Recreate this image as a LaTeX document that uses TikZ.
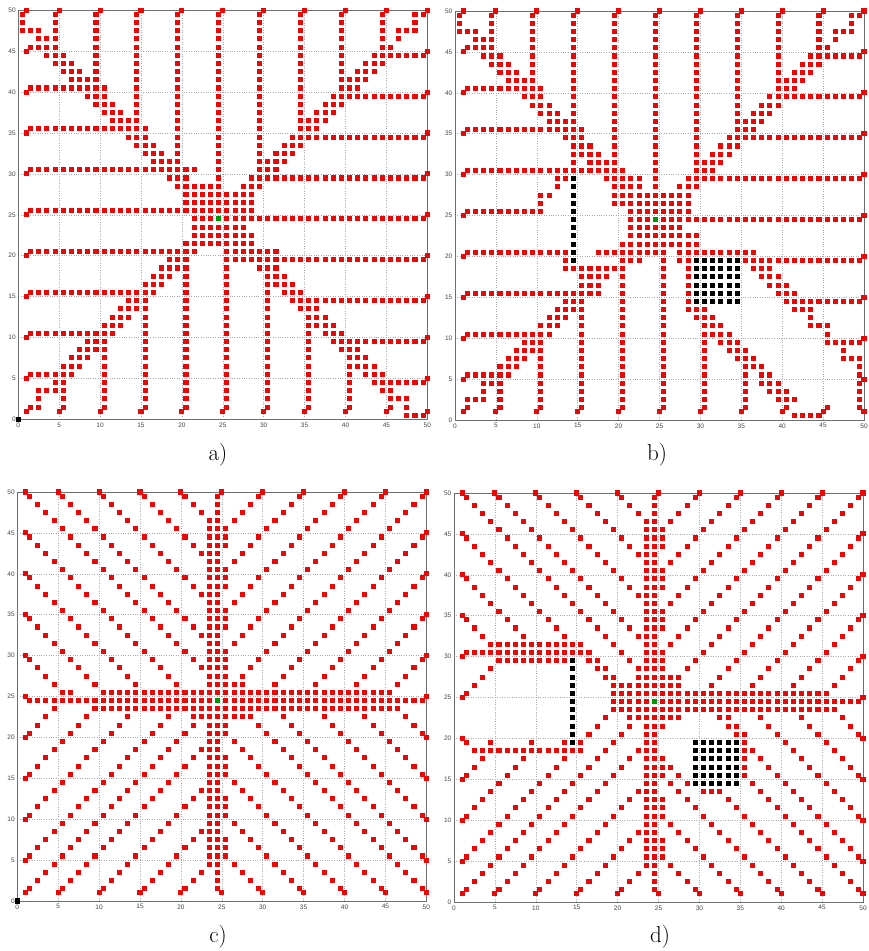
\documentclass[tikz,border=0pt]{standalone}
\usepackage{fontspec}
\newfontfamily\tickfont{Liberation Sans}
\definecolor{mred}{RGB}{232,8,8}
\definecolor{mgreen}{RGB}{0,150,0}
\definecolor{gridc}{RGB}{170,170,170}
\definecolor{axc}{RGB}{110,110,110}
\definecolor{tickc}{RGB}{70,70,70}
\def\sqh{0.31}
\tikzset{
  pth/.style={fill=mred},
  obs/.style={fill=black},
  goal/.style={fill=mgreen},
  gridl/.style={draw=gridc,line width=0.6pt,dash pattern=on 0.8pt off 1.6pt},
  axl/.style={draw=axc,line width=0.8pt},
  tick/.style={font=\tickfont\fontsize{6.5}{7}\selectfont,text=tickc,inner sep=0pt},
  lab/.style={font=\fontsize{23}{28}\selectfont,inner sep=0pt}
}
\newcommand\psq[2]{\fill[pth] ({#1-\sqh},{#2-\sqh}) rectangle ++({2*\sqh},{2*\sqh});}
\newcommand\osq[2]{\fill[obs] ({#1-\sqh},{#2-\sqh}) rectangle ++({2*\sqh},{2*\sqh});}
\newcommand\gsq[2]{\fill[goal] ({#1-\sqh},{#2-\sqh}) rectangle ++({2*\sqh},{2*\sqh});}
% run: x y dx dy n
\newcommand\pl[5]{\pgfmathtruncatemacro\nnp{#5-1}\foreach \k in {0,...,\nnp}{\psq{#1+\k*(#3)}{#2+\k*(#4)}}}
% horizontal run at y from x1 to x2
\newcommand\hr[3]{\pgfmathtruncatemacro\nnh{round(#3-#2)}\foreach \k in {0,...,\nnh}{\psq{#2+\k}{#1}}}
% vertical run at x from y1 to y2
\newcommand\vr[3]{\pgfmathtruncatemacro\nnv{round(#3-#2)}\foreach \k in {0,...,\nnv}{\psq{#1}{#2+\k}}}
\newcommand\starts{%
  \foreach \v in {1,5,10,...,50}{\psq{1}{\v}}%
  \foreach \v in {5,10,...,50}{\psq{\v}{50}}%
  \foreach \v in {1,5,10,...,45}{\psq{50}{\v}}%
  \foreach \v in {5,10,...,45}{\psq{\v}{1}}}
\newcommand\axbox[1]{%
  \foreach \t in {5,10,...,45}{\draw[gridl] (\t,0) -- (\t,50); \draw[gridl] (0,\t) -- (50,\t);}
  \draw[axl] (0,0) rectangle (50,50);
  \foreach \t in {0,5,...,50}{\node[tick,anchor=north] (#1x\t) at (\t,-0.4) {\t};
    \node[tick,anchor=east] (#1y\t) at (-0.3,\t) {\t};}}
\newcommand\obstacles{%
  \foreach \j in {19.5,20.5,...,29.5}{\osq{14.5}{\j}}
  \foreach \i in {29.5,30.5,...,34.5}{\foreach \j in {14.5,15.5,...,19.5}{\osq{\i}{\j}}}}
% ---------- shared pieces of the grid planners
\newcommand\ulA{%
  \hr{45.5}{1.5}{4.5}\hr{40.5}{1.5}{10.5}\hr{35.5}{1.5}{15.5}
  \vr{4.5}{43.5}{49.5}\vr{9.5}{38.5}{49.5}\vr{24.5}{25.5}{49.5}
  \psq{0.5}{49.5}\psq{0.5}{48.5}\psq{0.5}{47.5}\psq{1.5}{47.5}\psq{2.5}{47.5}\psq{2.5}{46.5}\psq{2.5}{45.5}}
\newcommand\urA{%
  \vr{29.5}{28.5}{49.5}\vr{34.5}{33.5}{49.5}\vr{39.5}{38.5}{49.5}\vr{44.5}{43.5}{49.5}
  \hr{44.5}{43.5}{49.5}\hr{39.5}{38.5}{49.5}\hr{34.5}{33.5}{49.5}\hr{29.5}{28.5}{49.5}
  \pl{25.5}{25.5}{1}{1}{21}\pl{26.5}{25.5}{1}{1}{20}\pl{25.5}{26.5}{1}{1}{20}
  \psq{49.5}{49.5}\psq{48.5}{49.5}\psq{48.5}{48.5}\psq{48.5}{47.5}\psq{47.5}{47.5}\psq{46.5}{47.5}\psq{46.5}{46.5}
  \hr{28.5}{27.5}{28.5}\hr{27.5}{24.5}{28.5}\hr{26.5}{24.5}{28.5}\hr{25.5}{24.5}{28.5}}
% ---------- straight-line planners shared pieces
\newcommand\ulC{%
  \pl{1.5}{49.5}{1}{-1}{23}
  \pl{5.5}{49.5}{1}{-1}{19}\pl{10.5}{49.5}{1}{-1}{14}\pl{15.5}{49.5}{1}{-1}{9}\pl{20.5}{49.5}{1}{-1}{4}
  \vr{23.5}{25.5}{45.5}\vr{24.5}{25.5}{49.5}
  \pl{1.5}{44.5}{1}{-1}{20}}
\newcommand\urC{%
  \pl{49.5}{49.5}{-1}{-1}{25}
  \pl{29.5}{49.5}{-1}{-1}{5}\pl{34.5}{49.5}{-1}{-1}{10}\pl{39.5}{49.5}{-1}{-1}{15}\pl{44.5}{49.5}{-1}{-1}{20}
  \vr{25.5}{43.5}{44.5}\vr{25.5}{38.5}{39.5}\vr{25.5}{33.5}{34.5}\vr{25.5}{25.5}{29.5}
  \pl{49.5}{44.5}{-1}{-1}{20}\pl{49.5}{39.5}{-1}{-1}{15}\pl{49.5}{34.5}{-1}{-1}{10}\pl{49.5}{29.5}{-1}{-1}{5}
  \hr{24.5}{25.5}{49.5}\hr{26.5}{23.5}{27.5}}
\newcommand\llC{%
  \pl{1.5}{1.5}{1}{1}{23}
  \pl{1.5}{5.5}{1}{1}{19}
  \pl{5.5}{1.5}{1}{1}{19}\pl{10.5}{1.5}{1}{1}{14}\pl{15.5}{1.5}{1}{1}{9}\pl{20.5}{1.5}{1}{1}{4}
  \vr{23.5}{5.5}{22.5}\vr{24.5}{1.5}{23.5}}
\newcommand\lrC{%
  \pl{29.5}{1.5}{-1}{1}{5}\pl{34.5}{1.5}{-1}{1}{10}\pl{39.5}{1.5}{-1}{1}{15}
  \vr{25.5}{6.5}{7.5}\vr{25.5}{11.5}{12.5}\vr{25.5}{16.5}{17.5}\vr{25.5}{21.5}{23.5}
  \pl{49.5}{20.5}{-1}{1}{4}\pl{49.5}{15.5}{-1}{1}{9}\pl{49.5}{10.5}{-1}{1}{14}\pl{49.5}{5.5}{-1}{1}{19}
  \hr{22.5}{21.5}{27.5}}
\begin{document}
\begin{tikzpicture}[x=1pt,y=1pt]
\useasboundingbox (0,0) rectangle (868,-951);
\fill[white] (0,0) rectangle (868,-951);
% ================= panel a
\begin{scope}[shift={(18.3,-419.3)},x=8.18pt,y=8.18pt]
\axbox{a}
\ulA
\hr{30.5}{1.5}{21.5}\hr{25.5}{1.5}{23.5}
\vr{14.5}{33.5}{49.5}\vr{19.5}{28.5}{49.5}
\pl{3.5}{45.5}{1}{-1}{21}\pl{3.5}{44.5}{1}{-1}{21}\pl{3.5}{46.5}{1}{-1}{21}
\urA
% lower left
\hr{20.5}{1.5}{21.5}\hr{15.5}{1.5}{16.5}\hr{10.5}{1.5}{11.5}\hr{5.5}{1.5}{6.5}
\vr{5.5}{1.5}{4.5}\vr{10.5}{1.5}{10.5}\vr{15.5}{1.5}{16.5}\vr{20.5}{1.5}{21.5}
\pl{5.5}{5.5}{1}{1}{19}\pl{6.5}{5.5}{1}{1}{18}\pl{5.5}{6.5}{1}{1}{18}
\psq{1.5}{1.5}\psq{2.5}{1.5}\psq{2.5}{2.5}\psq{2.5}{3.5}\psq{3.5}{3.5}\psq{4.5}{3.5}\psq{4.5}{4.5}
% lower right
\hr{24.5}{25.5}{49.5}\hr{19.5}{25.5}{49.5}\hr{14.5}{33.5}{49.5}\hr{9.5}{38.5}{49.5}\hr{4.5}{43.5}{49.5}
\vr{25.5}{1.5}{23.5}\vr{30.5}{1.5}{18.5}\vr{35.5}{1.5}{14.5}\vr{40.5}{1.5}{9.5}\vr{45.5}{1.5}{4.5}
\pl{25.5}{23.5}{1}{-1}{21}\pl{25.5}{22.5}{1}{-1}{21}\pl{25.5}{24.5}{1}{-1}{21}
\hr{0.5}{47.5}{49.5}\psq{47.5}{1.5}\psq{47.5}{2.5}\psq{46.5}{2.5}
% centre
\hr{28.5}{19.5}{24.5}\hr{27.5}{20.5}{24.5}\hr{26.5}{20.5}{24.5}\hr{25.5}{21.5}{24.5}
\hr{24.5}{21.5}{23.5}\hr{23.5}{21.5}{27.5}\hr{22.5}{21.5}{28.5}\hr{21.5}{20.5}{28.5}\hr{20.5}{25.5}{31.5}
\starts
\osq{0}{0}
\gsq{24.5}{24.5}
\end{scope}
% ================= panel b
\begin{scope}[shift={(455,-420)},x=8.18pt,y=8.18pt]
\axbox{b}
\ulA
\hr{30.5}{1.5}{20.5}\hr{25.5}{1.5}{10.5}
\psq{10.5}{26.5}\psq{10.5}{27.5}\psq{11.5}{27.5}\psq{12.5}{28.5}\psq{12.5}{29.5}\psq{13.5}{29.5}
\vr{14.5}{30.5}{49.5}\vr{19.5}{26.5}{49.5}
\pl{3.5}{45.5}{1}{-1}{17}\pl{3.5}{44.5}{1}{-1}{17}\pl{3.5}{46.5}{1}{-1}{17}
\hr{29.5}{18.5}{22.5}\hr{28.5}{19.5}{22.5}\hr{27.5}{19.5}{23.5}\hr{26.5}{19.5}{24.5}\hr{25.5}{21.5}{24.5}
\urA
% lower left
\hr{20.5}{1.5}{13.5}\hr{20.5}{17.5}{24.5}
\psq{13.5}{19.5}\psq{13.5}{18.5}\hr{18.5}{14.5}{20.5}\hr{19.5}{20.5}{22.5}
\hr{17.5}{15.5}{18.5}\hr{16.5}{15.5}{17.5}\hr{15.5}{1.5}{17.5}
\hr{14.5}{13.5}{15.5}\hr{13.5}{12.5}{15.5}\hr{12.5}{11.5}{13.5}\hr{11.5}{10.5}{12.5}
\hr{10.5}{1.5}{11.5}\hr{9.5}{8.5}{10.5}\hr{8.5}{7.5}{10.5}\hr{7.5}{6.5}{8.5}\hr{6.5}{5.5}{7.5}
\hr{5.5}{1.5}{6.5}\hr{4.5}{3.5}{5.5}\psq{3.5}{3.5}\hr{2.5}{1.5}{3.5}\psq{1.5}{1.5}
\vr{5.5}{1.5}{6.5}\vr{10.5}{1.5}{10.5}\vr{15.5}{1.5}{18.5}\vr{20.5}{1.5}{21.5}
\hr{21.5}{20.5}{24.5}\hr{22.5}{21.5}{24.5}\hr{23.5}{21.5}{24.5}\hr{24.5}{21.5}{23.5}
% lower right
\hr{24.5}{25.5}{49.5}\hr{23.5}{24.5}{27.5}\hr{22.5}{24.5}{29.5}\hr{21.5}{24.5}{29.5}
\hr{20.5}{24.5}{25.5}\hr{20.5}{27.5}{36.5}
\vr{25.5}{1.5}{19.5}
\hr{19.5}{27.5}{28.5}\hr{19.5}{35.5}{49.5}
\vr{28.5}{13.5}{18.5}
\hr{18.5}{36.5}{38.5}\hr{17.5}{37.5}{39.5}\hr{16.5}{38.5}{40.5}\hr{15.5}{39.5}{41.5}
\hr{14.5}{40.5}{49.5}
\hr{13.5}{29.5}{30.5}\hr{13.5}{41.5}{43.5}
\hr{12.5}{29.5}{31.5}\psq{43.5}{12.5}
\hr{11.5}{31.5}{32.5}\hr{11.5}{43.5}{45.5}
\hr{10.5}{31.5}{33.5}\psq{45.5}{10.5}
\hr{9.5}{32.5}{34.5}\hr{9.5}{45.5}{49.5}
\vr{30.5}{1.5}{11.5}
\hr{8.5}{33.5}{35.5}\psq{47.5}{8.5}
\hr{7.5}{34.5}{36.5}\hr{7.5}{47.5}{49.5}
\hr{6.5}{36.5}{37.5}
\vr{35.5}{1.5}{6.5}
\hr{5.5}{37.5}{38.5}\hr{4.5}{37.5}{39.5}\hr{3.5}{38.5}{40.5}\hr{2.5}{39.5}{41.5}
\psq{40.5}{1.5}\psq{45.5}{1.5}
\vr{49.5}{1.5}{6.5}
\hr{0.5}{41.5}{44.5}
\starts
\obstacles
\gsq{24.5}{24.5}
\end{scope}
% ================= panel c
\begin{scope}[shift={(17.3,-901)},x=8.18pt,y=8.18pt]
\axbox{c}
\ulC
\pl{1.5}{39.5}{1}{-1}{15}\pl{1.5}{34.5}{1}{-1}{10}\pl{1.5}{29.5}{1}{-1}{5}
\psq{6.5}{25.5}\hr{25.5}{11.5}{23.5}\hr{24.5}{1.5}{23.5}
\urC
\hr{25.5}{25.5}{44.5}
\llC
\pl{1.5}{20.5}{1}{1}{4}\pl{1.5}{15.5}{1}{1}{9}\pl{1.5}{10.5}{1}{1}{14}
\hr{23.5}{10.5}{23.5}
\lrC
\pl{44.5}{1.5}{-1}{1}{20}\pl{49.5}{1.5}{-1}{1}{23}
\hr{23.5}{25.5}{45.5}
\starts
\osq{0}{0}
\gsq{24.5}{24.5}
\end{scope}
% ================= panel d
\begin{scope}[shift={(454,-902)},x=8.18pt,y=8.18pt]
\axbox{d}
\ulC
\pl{1.5}{39.5}{1}{-1}{9}\pl{1.5}{34.5}{1}{-1}{4}
\hr{31.5}{4.5}{15.5}\hr{30.5}{1.5}{16.5}
\pl{1.5}{25.5}{1}{1}{4}\hr{29.5}{5.5}{13.5}
\psq{17.5}{29.5}\psq{18.5}{28.5}\psq{19.5}{27.5}
\hr{27.5}{22.5}{27.5}\hr{28.5}{22.5}{25.5}
\urC
\hr{26.5}{19.5}{27.5}\hr{25.5}{19.5}{45.5}\hr{24.5}{19.5}{49.5}\hr{23.5}{19.5}{46.5}
\llC
\psq{1.5}{19.5}\hr{18.5}{2.5}{15.5}
\pl{1.5}{15.5}{1}{1}{3}\pl{1.5}{10.5}{1}{1}{8}
\psq{4.5}{19.5}\psq{9.5}{19.5}\psq{13.5}{19.5}
\lrC
\pl{44.5}{1.5}{-1}{1}{12}\hr{13.5}{30.5}{32.5}\pl{28.5}{14.5}{-1}{1}{4}
\pl{49.5}{1.5}{-1}{1}{14}\vr{35.5}{15.5}{20.5}\pl{34.5}{21.5}{-1}{1}{3}
\starts
\obstacles
\gsq{24.5}{24.5}
\end{scope}
% ================= captions
\node[lab] (la) at (218,-455) {a)};
\node[lab] (lb) at (657,-455) {b)};
\node[lab] (lc) at (218,-937) {c)};
\node[lab] (ld) at (660,-937) {d)};
\end{tikzpicture}
\end{document}
